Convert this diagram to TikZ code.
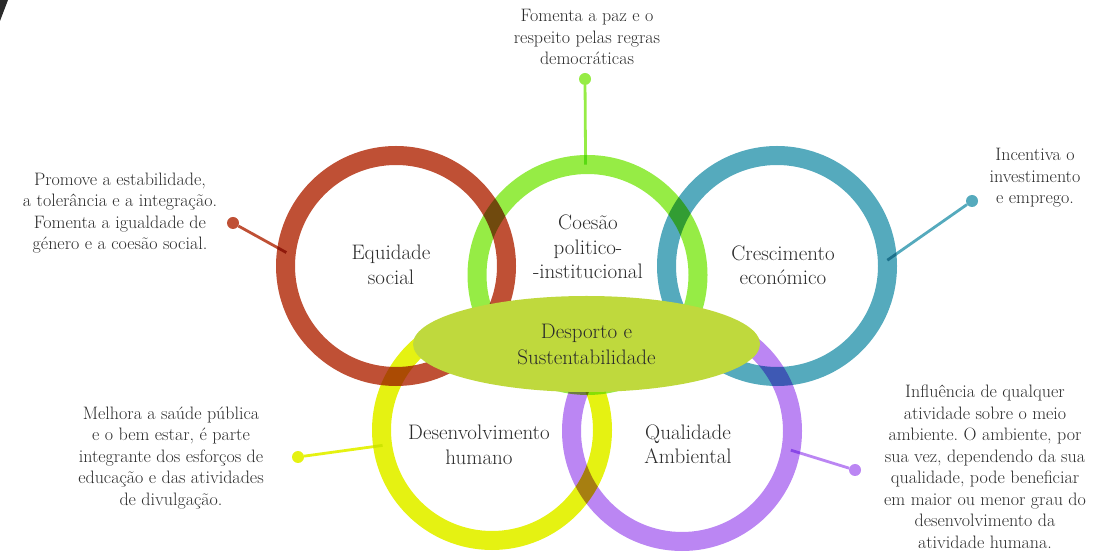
\documentclass[tikz,border=0pt]{standalone}
\usetikzlibrary{shapes.geometric}

\definecolor{vermelho}{HTML}{BF5035}
\definecolor{verde}{HTML}{96EC45}
\definecolor{azul}{HTML}{55AABD}
\definecolor{amarelo}{HTML}{E5F212}
\definecolor{roxo}{HTML}{BB86F3}
\definecolor{lima}{HTML}{BFD93D}
\definecolor{texto}{HTML}{2B2B2B}

\tikzset{
  anel/.style={circle, draw=#1, line width=19pt, minimum size=221pt, inner sep=0pt, outer sep=0pt},
  ponto/.style={circle, fill=#1, minimum size=12pt, inner sep=0pt},
  liga/.style={draw=#1, line width=2.8pt},
  rotulo/.style={align=center, text=texto, font=\fontsize{21}{24.5}\selectfont},
  nota/.style={align=center, text=texto, font=\fontsize{18}{21.5}\selectfont},
}
\frenchspacing

\begin{document}
\begin{tikzpicture}[x=1pt, y=1pt]
  \useasboundingbox (0,0) rectangle (1107,551);
  %canto
  \fill[texto] (0,551) -- (8,551) -- (0,530) -- cycle;

  %%%% ANEIS
  \begin{scope}[blend group=multiply]
    \node[anel=vermelho] (equidade) at (396,285) {};
    \node[anel=verde] (coesao) at (587.5,276) {};
    \node[anel=azul] (crescimento) at (777,285) {};
    \node[anel=amarelo] (desenvolvimento) at (492,121) {};
    \node[anel=roxo] (qualidade) at (682,120) {};

    \node[rotulo] (tequidade) at (391,286) {Equidade\\social};
    \node[rotulo] (tcoesao) at (588,304) {Coes\~ao\\politico-\\-institucional};
    \node[rotulo] (tcrescimento) at (783,286) {Crescimento\\econ\'omico};
    \node[rotulo] (tdesenvolvimento) at (479,106) {Desenvolvimento\\humano};
    \node[rotulo] (tqualidade) at (688,107) {Qualidade\\Ambiental};

    %pontos
    \node[ponto=vermelho] (pvermelho) at (233,328) {};
    \node[ponto=verde] (pverde) at (585,472) {};
    \node[ponto=azul] (pazul) at (972,350) {};
    \node[ponto=amarelo] (pamarelo) at (298,94) {};
    \node[ponto=roxo] (proxo) at (855,81) {};

    %ligacoes
    \draw[liga=vermelho] (pvermelho) -- (equidade.173);
    \draw[liga=verde] (pverde) -- (coesao.91);
    \draw[liga=azul] (pazul) -- (crescimento.3);
    \draw[liga=amarelo] (pamarelo) -- (desenvolvimento.188);
    \draw[liga=roxo] (proxo) -- (qualidade.-10);
  \end{scope}

  %centro
  \node[ellipse, fill=lima, minimum width=347pt, minimum height=96pt, inner sep=0pt,
        align=center, text=texto, font=\fontsize{21}{26}\selectfont]
        (desporto) at (586.5,207) {Desporto e\\Sustentabilidade};

  %%%% NOTAS
  \node[nota] (nequidade) at (120,338) {Promove a estabilidade,\\a toler\^ancia e a integra\c{c}\~ao.\\Fomenta a igualdade de\\g\'enero e a coes\~ao social.};
  \node[nota] (ncoesao) at (587,514) {Fomenta a paz e o\\respeito pelas regras\\democr\'aticas};
  \node[nota] (ncrescimento) at (1035,373) {Incentiva o\\investimento\\e emprego.};
  \node[nota] (ndesenvolvimento) at (171,93) {Melhora a sa\'ude p\'ublica\\e o bem estar, \'e parte\\integrante dos esfor\c{c}os de\\educa\c{c}\~ao e das atividades\\de divulga\c{c}\~ao.};
  \node[nota] (nqualidade) at (985,84) {Influ\^encia de qualquer\\atividade sobre o meio\\ambiente. O ambiente, por\\sua vez, dependendo da sua\\qualidade, pode beneficiar\\em maior ou menor grau do\\desenvolvimento da\\atividade humana.};
\end{tikzpicture}
\end{document}
